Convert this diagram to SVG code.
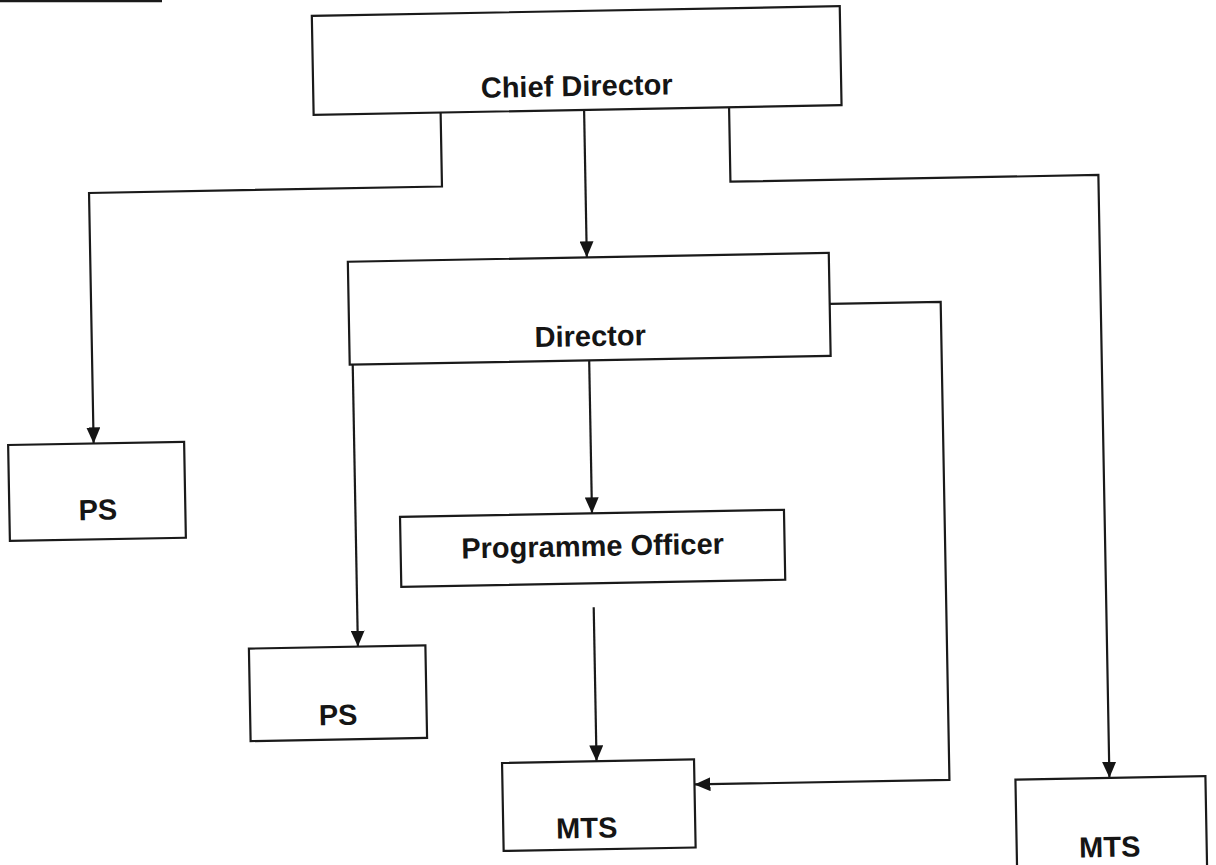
<svg xmlns="http://www.w3.org/2000/svg" width="1216" height="865" viewBox="0 0 1216 865">
  <defs>
    <style>
      .box { fill: #ffffff; stroke: #1a1a1a; stroke-width: 2.2; }
      .lbl { font-family: "Liberation Sans", Arial, sans-serif; font-weight: bold; font-size: 29px; fill: #151515; text-anchor: middle; }
      .con { fill: none; stroke: #1a1a1a; stroke-width: 2.2; marker-end: url(#arrow); }
    </style>
    <marker id="arrow" markerUnits="userSpaceOnUse" markerWidth="17" markerHeight="14" refX="16" refY="7" orient="auto">
      <path d="M0,0 L16,7 L0,14 z" fill="#151515"/>
    </marker>
  </defs>
  <rect width="1216" height="865" fill="#ffffff"/>
  <line x1="0" y1="1" x2="162" y2="1" stroke="#1a1a1a" stroke-width="2.5"/>
  <g transform="rotate(-1.05 608 432)">
    <g id="connectors">
      <path class="con" d="M446.5,109.5 V183.5 H93.5 V434"/>
      <path class="con" d="M590,109.5 V257"/>
      <path class="con" d="M735,109.5 V184 H1103 V787"/>
      <path class="con" d="M354,360 V642"/>
      <path class="con" d="M590.5,360 V513"/>
      <path class="con" d="M832,308 H943 V786 H688"/>
      <path class="con" d="M590.5,607 V761"/>
    </g>
    <g id="chief-director">
      <rect class="box" x="319.5" y="10.5" width="528" height="99"/>
      <text class="lbl" x="583" y="95.5">Chief Director</text>
    </g>
    <g id="director">
      <rect class="box" x="351" y="257" width="481" height="103"/>
      <text class="lbl" x="592" y="345.7">Director</text>
    </g>
    <g id="ps-left">
      <rect class="box" x="8" y="434" width="176" height="96"/>
      <text class="lbl" x="96.5" y="510.5">PS</text>
    </g>
    <g id="programme-officer">
      <rect class="box" x="398.5" y="513" width="384" height="70"/>
      <text class="lbl" x="590.5" y="555.7">Programme Officer</text>
    </g>
    <g id="ps-middle">
      <rect class="box" x="245" y="642" width="176.5" height="92.5"/>
      <text class="lbl" x="333" y="720">PS</text>
    </g>
    <g id="mts-middle">
      <rect class="box" x="496" y="761" width="192" height="88"/>
      <text class="lbl" x="579.5" y="837.5">MTS</text>
    </g>
    <g id="mts-right">
      <rect class="box" x="1009" y="787" width="190" height="100"/>
      <text class="lbl" x="1102" y="866">MTS</text>
    </g>
  </g>
</svg>
